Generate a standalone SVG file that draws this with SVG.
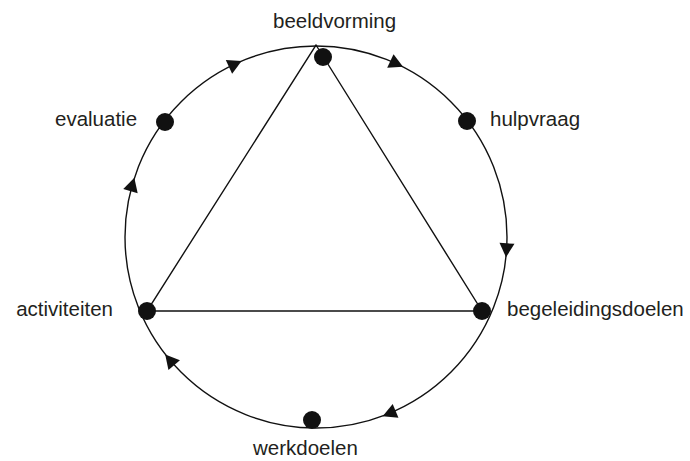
<svg xmlns="http://www.w3.org/2000/svg" xmlns:xlink="http://www.w3.org/1999/xlink" width="690" height="461" viewBox="0 0 690 461">
<style>
.ln{fill:none;stroke:#111;stroke-width:1.4}
.dot{fill:#111}
.lbl{font-family:"Liberation Sans",Arial,sans-serif;font-size:20.5px;fill:#231f20}
</style>
<defs>
<path id="arr" d="M7,0 L-7,-7.5 L-7,7.5 Z" fill="#111"/>
</defs>
<rect width="690" height="461" fill="#fff"/>
<g id="connectors">
<circle class="ln" cx="316" cy="237" r="191"/>
<polygon class="ln" points="316,45 482,311 147,311"/>
<use xlink:href="#arr" href="#arr" transform="translate(235.3,63.9) rotate(-25)"/>
<use xlink:href="#arr" href="#arr" transform="translate(396.7,63.9) rotate(25)"/>
<use xlink:href="#arr" href="#arr" transform="translate(506.5,250.3) rotate(94)"/>
<use xlink:href="#arr" href="#arr" transform="translate(389.1,413.5) rotate(157.5)"/>
<use xlink:href="#arr" href="#arr" transform="translate(169.7,359.8) rotate(230)"/>
<use xlink:href="#arr" href="#arr" transform="translate(132.4,184.4) rotate(-74)"/>
</g>
<g id="beeldvorming"><circle class="dot" cx="323" cy="57" r="9"/><text class="lbl" x="273" y="28">beeldvorming</text></g>
<g id="hulpvraag"><circle class="dot" cx="467" cy="121" r="9"/><text class="lbl" x="490" y="126">hulpvraag</text></g>
<g id="begeleidingsdoelen"><circle class="dot" cx="482" cy="311" r="9"/><text class="lbl" x="507" y="316">begeleidingsdoelen</text></g>
<g id="werkdoelen"><circle class="dot" cx="312" cy="420" r="9"/><text class="lbl" x="253" y="455">werkdoelen</text></g>
<g id="activiteiten"><circle class="dot" cx="147" cy="311" r="9"/><text class="lbl" x="113" y="316" text-anchor="end">activiteiten</text></g>
<g id="evaluatie"><circle class="dot" cx="165" cy="122" r="9"/><text class="lbl" x="55" y="126">evaluatie</text></g>
</svg>
